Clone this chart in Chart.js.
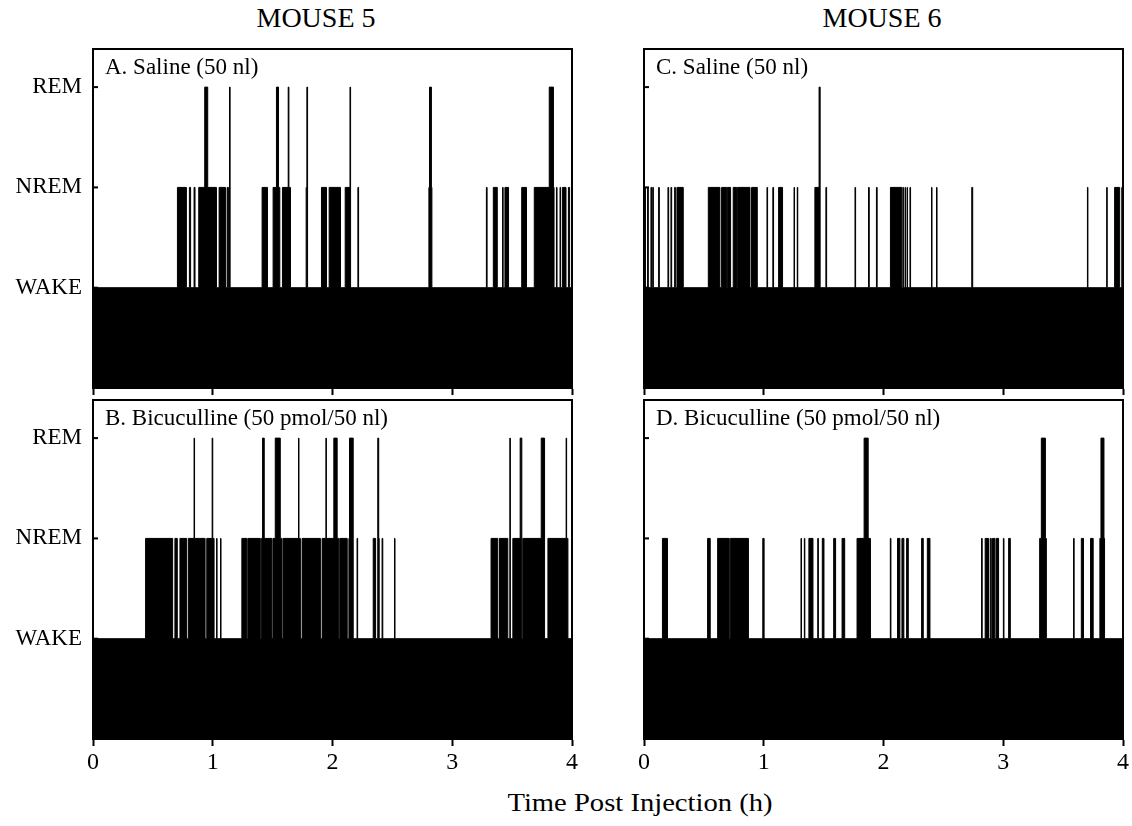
<!DOCTYPE html>
<html>
<head>
<meta charset="utf-8">
<script src="https://cdn.jsdelivr.net/npm/chart.js@4/dist/chart.umd.min.js"></script>
<style>
  body { margin: 0; background: #fff; width: 1132px; height: 826px; position: relative; overflow: hidden; }
  canvas { position: absolute; }
  .txt { position: absolute; font-family: "Liberation Serif", "Times New Roman", serif; color: #000; white-space: nowrap; transform: translateX(-50%); line-height: 1.15; }
</style>
</head>
<body>
<div class="txt" style="left:316px; top:2px; font-size:28px;">MOUSE 5</div>
<div class="txt" style="left:882px; top:2px; font-size:28px;">MOUSE 6</div>
<div class="txt" style="left:640px; top:788px; font-size:26px; transform: translateX(-50%) scaleX(1.1);">Time Post Injection (h)</div>

<canvas id="panelA" width="590" height="372" style="left:0; top:40px;"></canvas>
<canvas id="panelB" width="590" height="420" style="left:0; top:391px;"></canvas>
<canvas id="panelC" width="540" height="372" style="left:600px; top:40px;"></canvas>
<canvas id="panelD" width="540" height="420" style="left:600px; top:391px;"></canvas>

<script>
// hours post injection
var xTicks = [0, 1, 2, 3, 4];
var stateLevels = [1, 2, 3];
var stateNames = ['WAKE', 'NREM', 'REM'];

// sleep episodes as [start, end] in hours; everything else is WAKE
// mouse 5, saline
var nremA = [[0.705,0.78],[0.805,0.815],[0.844,0.852],[0.883,1.031],[1.053,1.106],[1.12,1.131],
  [1.412,1.457],[1.504,1.56],[1.582,1.649],[1.78,1.786],[1.908,1.95],[1.972,2.067],[2.106,2.15],
  [2.212,2.218],[2.805,2.83],[3.285,3.291],[3.343,3.376],[3.42,3.425],[3.44,3.47],[3.58,3.62],
  [3.685,3.85],[3.87,3.875],[3.9,3.905],[3.92,3.95],[3.97,3.98]];
var remA = [[0.933,0.958],[1.14,1.145],[1.532,1.549],[1.63,1.636],[1.786,1.792],[2.146,2.151],
  [2.81,2.826],[3.81,3.845]];

// mouse 5, bicuculline
var nremB = [[0.439,0.665],[0.684,0.704],[0.726,0.782],[0.796,0.936],[0.95,1.011],[1.032,1.036],
  [1.065,1.069],[1.243,1.285],[1.293,1.397],[1.405,1.494],[1.503,1.578],[1.587,1.732],[1.746,1.899],
  [1.913,2.053],[2.061,2.123],[2.137,2.173],[2.205,2.21],[2.34,2.36],[2.378,2.39],[2.414,2.42],
  [2.518,2.522],[3.324,3.38],[3.394,3.464],[3.506,3.575],[3.589,3.743],[3.75,3.77],[3.799,3.966]];
var remB = [[0.844,0.848],[0.995,1.0],[1.416,1.43],[1.522,1.564],[1.716,1.72],[1.945,1.949],
  [2.011,2.039],[2.142,2.173],[2.378,2.386],[3.481,3.485],[3.567,3.581],[3.743,3.771],[3.951,3.955]];

// mouse 6, saline
var nremC = [[0.003,0.012],[0.03,0.036],[0.058,0.064],[0.073,0.078],[0.122,0.128],[0.2,0.206],
  [0.225,0.231],[0.256,0.262],[0.275,0.328],[0.537,0.634],[0.648,0.69],[0.695,0.723],[0.745,0.773],
  [0.779,0.885],[0.898,0.946],[1.027,1.032],[1.076,1.082],[1.124,1.157],[1.253,1.257],[1.28,1.284],
  [1.427,1.469],[1.519,1.525],[1.762,1.767],[1.875,1.881],[1.941,1.947],[2.058,2.153],[2.162,2.166],
  [2.18,2.184],[2.197,2.201],[2.221,2.226],[2.401,2.405],[2.443,2.447],[2.737,2.745],[3.703,3.707],
  [3.864,3.868],[3.93,3.972],[3.99,3.995]];
var remC = [[1.462,1.471]];

// mouse 6, bicuculline
var nremD = [[0.154,0.196],[0.531,0.553],[0.615,0.712],[0.72,0.872],[0.992,1.003],[1.311,1.315],
  [1.339,1.343],[1.377,1.411],[1.451,1.456],[1.489,1.503],[1.584,1.6],[1.654,1.676],[1.779,1.891],
  [2.057,2.062],[2.117,2.137],[2.154,2.17],[2.193,2.207],[2.318,2.332],[2.366,2.388],[2.819,2.824],
  [2.849,2.877],[2.891,2.9],[2.91,2.93],[2.94,2.961],[3.001,3.006],[3.045,3.059],[3.304,3.36],
  [3.587,3.592],[3.652,3.67],[3.729,3.751],[3.807,3.846]];
var remD = [[1.838,1.872],[3.318,3.352],[3.816,3.841]];

var FONT = '"Liberation Serif", "Times New Roman", serif';

// turn episode lists into a step series: each point holds its state until the next one
function buildSteps(nrem, rem) {
  var cuts = [xTicks[0], xTicks[xTicks.length - 1]];
  nrem.concat(rem).forEach(function (p) { cuts.push(p[0], p[1]); });
  cuts = cuts.filter(function (t, i) { return cuts.indexOf(t) === i; }).sort(function (a, b) { return a - b; });
  function inside(list, t) {
    return list.some(function (p) { return t >= p[0] && t < p[1]; });
  }
  return cuts.map(function (t) {
    return { x: t, y: inside(rem, t) ? 3 : inside(nrem, t) ? 2 : 1 };
  });
}

// box around the plot, small inward ticks on the state levels, panel caption
var framePlugin = {
  id: 'frame',
  afterDraw: function (chart, args, opts) {
    var ctx = chart.ctx, a = chart.chartArea, y = chart.scales.y;
    ctx.save();
    ctx.strokeStyle = '#000';
    ctx.lineWidth = 2;
    ctx.strokeRect(a.left, a.top, a.right - a.left, a.bottom - a.top);
    stateLevels.forEach(function (v) {
      var py = y.getPixelForValue(v);
      ctx.beginPath();
      ctx.moveTo(a.left, py);
      ctx.lineTo(a.left + 5, py);
      ctx.stroke();
    });
    ctx.fillStyle = '#000';
    ctx.font = '23px ' + FONT;
    ctx.textBaseline = 'alphabetic';
    ctx.fillText(opts.label, a.left + 12, a.top + 25);
    ctx.restore();
  }
};

function makePanel(id, nrem, rem, label, showY, showX, yWidth, padRight, xHeight) {
  return new Chart(document.getElementById(id).getContext('2d'), {
    type: 'line',
    data: {
      datasets: [{
        data: buildSteps(nrem, rem),
        stepped: true,
        borderColor: '#000',
        backgroundColor: '#000',
        borderWidth: 1,
        pointRadius: 0,
        fill: 'origin'
      }]
    },
    options: {
      responsive: false,
      animation: false,
      events: [],
      layout: { padding: { top: 9, right: padRight, left: 0, bottom: 0 } },
      plugins: {
        legend: { display: false },
        tooltip: { enabled: false },
        frame: { label: label }
      },
      scales: {
        x: {
          type: 'linear',
          min: 0,
          max: 4,
          afterBuildTicks: function (s) { s.ticks = xTicks.map(function (v) { return { value: v }; }); },
          afterFit: function (s) { s.height = xHeight; s.paddingLeft = 0; s.paddingRight = 0; },
          border: { display: true, color: '#000', width: 2 },
          grid: { drawOnChartArea: false, drawTicks: true, tickLength: 7, tickWidth: 2, tickColor: '#000' },
          ticks: { display: showX, color: '#000', padding: 2, maxRotation: 0, font: { family: FONT, size: 24 } }
        },
        y: {
          type: 'linear',
          min: 0,
          max: 3.38,
          afterBuildTicks: function (s) { s.ticks = stateLevels.map(function (v) { return { value: v }; }); },
          afterFit: function (s) { s.width = yWidth; s.paddingTop = 0; s.paddingBottom = 0; },
          border: { display: true, color: '#000', width: 2 },
          grid: { drawOnChartArea: false, drawTicks: false },
          ticks: {
            display: showY,
            color: '#000',
            padding: 11,
            font: { family: FONT, size: 23 },
            callback: function (v) { return stateNames[stateLevels.indexOf(v)]; }
          }
        }
      }
    },
    plugins: [framePlugin]
  });
}

makePanel('panelA', nremA, remA, 'A. Saline (50 nl)', true, false, 93, 18, 24);
makePanel('panelB', nremB, remB, 'B. Bicuculline (50 pmol/50 nl)', true, true, 93, 18, 72);
makePanel('panelC', nremC, remC, 'C. Saline (50 nl)', false, false, 44, 17, 24);
makePanel('panelD', nremD, remD, 'D. Bicuculline (50 pmol/50 nl)', false, true, 44, 17, 72);
</script>
</body>
</html>
